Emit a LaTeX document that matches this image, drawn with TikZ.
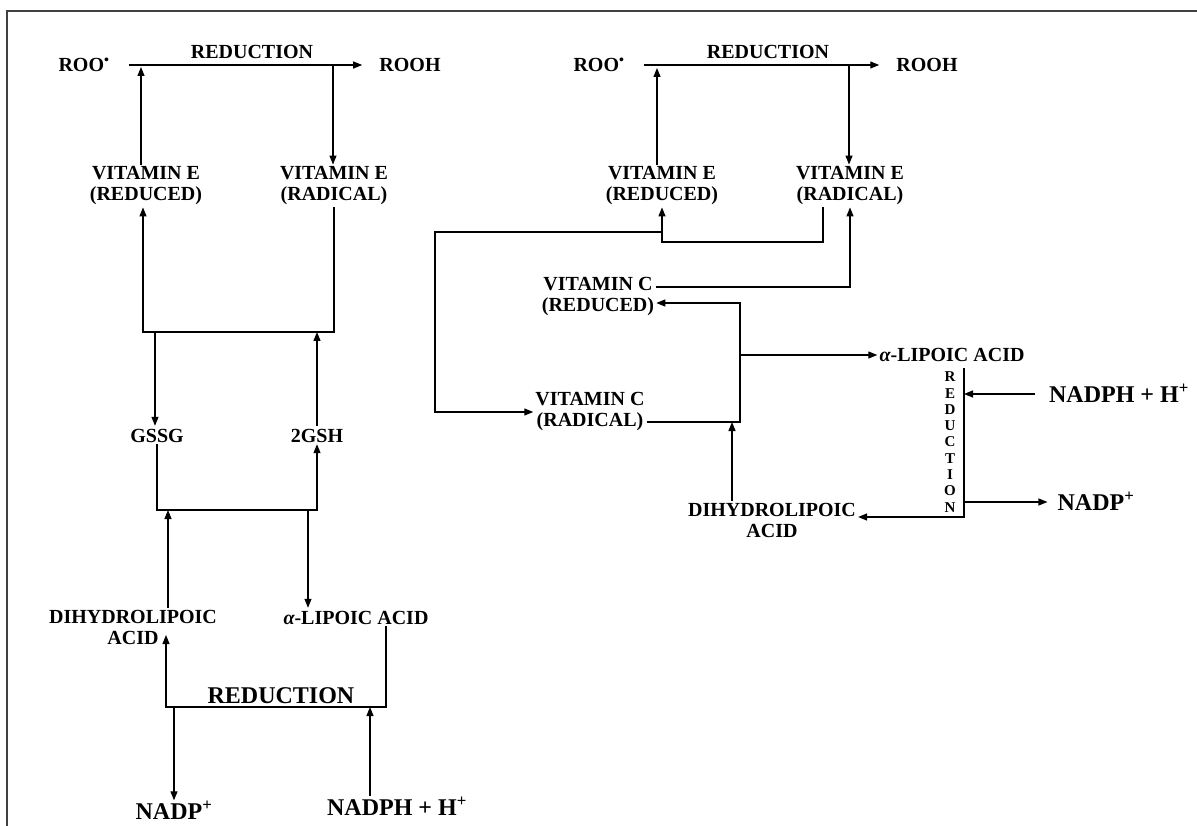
\documentclass[tikz,border=0pt]{standalone}
\usepackage{fontspec}
\setmainfont{Liberation Serif}
\usetikzlibrary{arrows.meta}
\tikzset{
	arr/.style={-{Triangle[length=9pt,width=7pt]}, line width=1.2pt},
	chem/.style={font=\bfseries\fontsize{20}{21}\selectfont, align=center, inner sep=2pt},
	one/.style={font=\bfseries\fontsize{20}{21}\selectfont, inner sep=2pt, text height=14pt, text depth=0pt},
	big/.style={font=\bfseries\fontsize{24}{26}\selectfont, inner sep=2pt, text height=17pt, text depth=0pt},
	vert/.style={font=\bfseries\fontsize{15}{16.3}\selectfont, align=center, inner sep=0pt}
}
\newcommand{\rad}{\textsuperscript{•}}
\newcommand{\alp}{{\itshape α}}
\begin{document}
\begin{tikzpicture}[x=1pt, y=-1pt]
	\useasboundingbox (0,0) rectangle (1197,826);
	\draw[line width=1.5pt, black!75] (7,826) -- (7,11) -- (1197,11);
	% left cycle
	\node[one] (rooL) at (84,65) {ROO\rad};
	\node[one] (redL) at (252,52) {REDUCTION};
	\node[one] (roohL) at (410,65) {ROOH};
	\node[chem] (vEredL) at (146,186) {VITAMIN E\\(REDUCED)};
	\node[chem] (vEradL) at (334,186) {VITAMIN E\\(RADICAL)};
	\node[one] (gssg) at (157,435) {GSSG};
	\node[one] (gsh) at (317,435) {2GSH};
	\node[chem] (dhlaL) at (133,627) {DIHYDROLIPOIC\\ACID};
	\node[one] (laL) at (356,617) {\alp-LIPOIC ACID};
	\node[big] (red2L) at (281,695) {REDUCTION};
	\node[big] (nadpL) at (174,811) {NADP\textsuperscript{+}};
	\node[big] (nadphL) at (397,807) {NADPH + H\textsuperscript{+}};
	\coordinate (upL) at (141,67);
	\coordinate (dnL) at (333,65);
	\coordinate (eL) at (143,332);
	\coordinate (gL) at (155,332);
	\coordinate (hL) at (317,510);
	\coordinate (kL) at (168,510);
	\coordinate (mL) at (308,510);
	\coordinate (nL) at (166,707);
	\coordinate (nLt) at (166,635);
	\coordinate (pL) at (370,707);
	\draw[arr, shorten <=17pt, shorten >=15pt] (rooL) -- (roohL);
	\draw[arr] (vEredL.north -| upL) -- (upL);
	\draw[arr] (dnL) -- (dnL |- vEradL.north);
	\draw[arr] (vEradL.south) |- (eL) -- (eL |- vEredL.south);
	\draw[arr] (gL) -- (gL |- gssg.north);
	\draw[arr] (gsh.north) -- (gsh.north |- eL);
	\draw[arr] (gssg.south) |- (hL) -- (gsh.south);
	\draw[arr] (dhlaL.north -| kL) -- (kL);
	\draw[arr] (mL) -- (mL |- laL.north);
	\draw[arr] ([xshift=30pt]laL.south) |- (nL) -- (nLt);
	\draw[arr] (nadpL.north |- nL) -- (nadpL.north);
	\draw[arr] (nadphL.north -| pL) -- (pL);
	% right cycle
	\node[one] (rooR) at (599,65) {ROO\rad};
	\node[one] (redR) at (768,52) {REDUCTION};
	\node[one] (roohR) at (927,65) {ROOH};
	\node[chem] (vEredR) at (662,186) {VITAMIN E\\(REDUCED)};
	\node[chem] (vEradR) at (850,186) {VITAMIN E\\(RADICAL)};
	\node[chem] (vCredR) at (598,297) {VITAMIN C\\(REDUCED)};
	\node[chem] (vCradR) at (590,412) {VITAMIN C\\(RADICAL)};
	\node[one] (laR) at (952,355) {\alp-LIPOIC ACID};
	\node[chem] (dhlaR) at (772,520) {DIHYDROLIPOIC\\ACID};
	\node[big] (nadphR) at (1119,394) {NADPH + H\textsuperscript{+}};
	\node[big] (nadpR) at (1096,502) {NADP\textsuperscript{+}};
	\node[vert] (redV) at (950,442) {R\\E\\D\\U\\C\\T\\I\\O\\N};
	\coordinate (upR) at (657,68);
	\coordinate (dnR) at (849,66);
	\coordinate (eR) at (662,242);
	\coordinate (fR) at (662,232);
	\coordinate (gR) at (435,412);
	\coordinate (hR) at (740,303);
	\coordinate (kR) at (740,355);
	\coordinate (mR) at (732,422);
	\coordinate (rT) at (964,368);
	\coordinate (rB) at (964,517);
	\coordinate (sR) at (964,502);
	\draw[arr, shorten <=17pt, shorten >=15pt] (rooR) -- (roohR);
	\draw[arr] (vEredR.north -| upR) -- (upR);
	\draw[arr] (dnR) -- (dnR |- vEradR.north);
	\draw[arr] ([xshift=-27pt]vEradR.south) |- (eR) -- (vEredR.south);
	\draw[arr] (fR) -| (gR) -- (vCradR.west);
	\draw[arr] ([yshift=10pt]vCredR.east) -| (vEradR.south);
	\draw[arr] ([yshift=-10pt]vCradR.east) -| (hR) -- (hR -| vCredR.east);
	\draw[arr] (kR) -- (laR);
	\draw[arr] (dhlaR.north -| mR) -- (mR);
	\draw[arr] (rT) -- (rB) -- (rB -| dhlaR.east);
	\draw[arr, shorten <=12pt] (nadphR) -- (nadphR -| rT);
	\draw[arr, shorten >=8pt] (sR) -- (nadpR);
\end{tikzpicture}
\end{document}
